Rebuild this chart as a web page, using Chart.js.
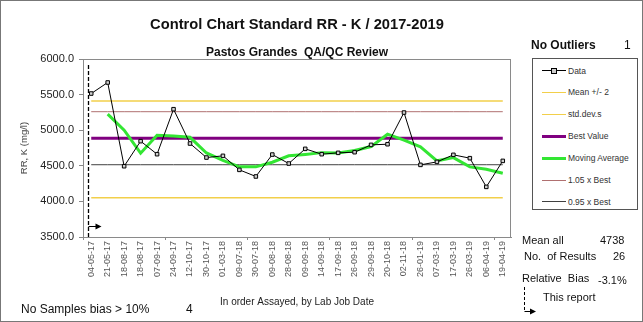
<!DOCTYPE html>
<html>
<head>
<meta charset="utf-8">
<script src="https://cdn.jsdelivr.net/npm/chart.js@4.4.1/dist/chart.umd.min.js"></script>
<style>
	body { margin: 0; background: #fff; font-family: Arial, "Liberation Sans", sans-serif; }
	#wrap { position: relative; width: 643px; height: 322px; overflow: hidden; background: #fff; }
	#chart { position: absolute; left: 0; top: 0; }
	#frame { position: absolute; left: 0; top: 0; width: 643px; height: 322px; box-sizing: border-box; border: 1px solid #777; pointer-events: none; }
	.t { position: absolute; white-space: nowrap; color: #111; line-height: 1; transform: translateY(-50%); }
	.c { transform: translate(-50%, -50%); }
	.b { font-weight: bold; }
	#legend { position: absolute; left: 532px; top: 58px; width: 106px; height: 152px; box-sizing: border-box; border: 1px solid #555; background: #fff; }
	.item { position: absolute; left: 0; height: 0; }
	.item .line { position: absolute; left: 9px; width: 24px; }
	.item .mk { position: absolute; left: 18px; width: 4px; height: 4px; border: 1px solid #000; background: #ccc; top: -3px; }
	.item span { position: absolute; left: 35px; top: 0; transform: translateY(-50%); font-size: 8.5px; color: #333; white-space: nowrap; line-height: 1; }
</style>
</head>
<body>
<div id="wrap">
	<canvas id="chart" width="643" height="322"></canvas>
	<div class="t c b" style="left:297px; top:24px; font-size:14.7px;">Control Chart Standard RR - K / 2017-2019</div>
	<div class="t c b" style="left:297px; top:52px; font-size:12px;">Pastos Grandes&nbsp; QA/QC Review</div>
	<div class="t b" style="left:531px; top:45px; font-size:12px;">No Outliers</div>
	<div class="t" style="left:624px; top:45px; font-size:12px;">1</div>
	<div id="legend"></div>
	<div class="t" style="left:522px; top:240px; font-size:11px;">Mean all</div>
	<div class="t" style="left:600px; top:240px; font-size:11px;">4738</div>
	<div class="t" style="left:524px; top:256px; font-size:11px;">No.&nbsp; of Results</div>
	<div class="t" style="left:613px; top:256px; font-size:11px;">26</div>
	<div class="t" style="left:522px; top:278px; font-size:11px;">Relative&nbsp; Bias</div>
	<div class="t" style="left:598px; top:280px; font-size:11px;">-3.1%</div>
	<div class="t" style="left:543px; top:297px; font-size:11px;">This report</div>
	<svg style="position:absolute; left:518px; top:284px;" width="24" height="34">
		<line x1="6.5" y1="3" x2="6.5" y2="27" stroke="#000" stroke-width="1" stroke-dasharray="3,2"/>
		<line x1="6.5" y1="27.5" x2="13" y2="27.5" stroke="#000" stroke-width="1"/>
		<polygon points="18,27.5 12,24.5 12,30.5" fill="#000"/>
	</svg>
	<div class="t" style="left:21px; top:309px; font-size:12px;">No Samples bias &gt; 10%</div>
	<div class="t" style="left:186px; top:309px; font-size:12px;">4</div>
	<div id="frame"></div>
</div>
<script>
const jobDates = [
	'04-05-17', '21-05-17', '18-08-17', '18-08-17', '07-09-17', '24-09-17',
	'12-10-17', '30-10-17', '01-03-18', '09-07-18', '30-07-18', '09-08-18',
	'28-08-18', '09-09-18', '14-09-18', '17-09-18', '26-09-18', '29-09-18',
	'20-10-18', '02-11-18', '26-01-19', '07-03-19', '17-03-19', '26-03-19',
	'06-04-19', '19-04-19'
];
const results = [
	5515, 5670, 4494, 4846, 4663, 5295, 4813, 4616, 4640, 4443, 4350, 4658, 4532,
	4738, 4663, 4682, 4691, 4794, 4803, 5248, 4513, 4555, 4654, 4607, 4204, 4569
];
const movingAverage = [
	null, 5225, 5000, 4677, 4930, 4920, 4900, 4680, 4575, 4485, 4485, 4550, 4640,
	4660, 4685, 4680, 4715, 4770, 4944, 4860, 4766, 4570, 4615, 4485, 4452, 4396
];
const meanPlus2Sd = 5410;
const meanMinus2Sd = 4052;
const bestValue = 4888;
const best105 = 5260;
const best95 = 4515;
const yTicks = [3500, 4000, 4500, 5000, 5500, 6000];
const thisReportArrowLevel = 3660;

function level(v) {
	return jobDates.map(function () { return v; });
}

const plotExtras = {
	id: 'plotExtras',
	beforeDatasetsDraw(chart) {
		const ctx = chart.ctx;
		const a = chart.chartArea;
		ctx.save();
		ctx.strokeStyle = '#8a8a8a';
		ctx.lineWidth = 1;
		ctx.strokeRect(Math.round(a.left) + 0.5, Math.round(a.top) + 0.5,
			Math.round(a.width) - 1, Math.round(a.height));
		ctx.restore();
	},
	afterDatasetsDraw(chart) {
		const ctx = chart.ctx;
		const a = chart.chartArea;
		const x = chart.scales.x;
		const y = chart.scales.y;
		const mx = Math.round(x.getPixelForValue(0) - 3) + 0.5;
		const ay = Math.round(y.getPixelForValue(thisReportArrowLevel)) + 0.5;
		ctx.save();
		ctx.strokeStyle = '#000';
		ctx.fillStyle = '#000';
		ctx.lineWidth = 1.3;
		ctx.setLineDash([4, 2]);
		ctx.beginPath();
		ctx.moveTo(mx, a.top + 6);
		ctx.lineTo(mx, a.bottom);
		ctx.stroke();
		ctx.setLineDash([]);
		ctx.lineWidth = 1;
		ctx.beginPath();
		ctx.moveTo(mx, ay);
		ctx.lineTo(mx + 8, ay);
		ctx.stroke();
		ctx.beginPath();
		ctx.moveTo(mx + 13, ay);
		ctx.lineTo(mx + 7, ay - 3);
		ctx.lineTo(mx + 7, ay + 3);
		ctx.closePath();
		ctx.fill();
		ctx.restore();
	}
};

const config = {
	type: 'line',
	data: {
		labels: jobDates,
		datasets: [
			{
				label: 'Data',
				data: results,
				borderColor: '#000',
				borderWidth: 1,
				pointStyle: 'rect',
				pointRadius: 2.5,
				pointBorderWidth: 1,
				pointBorderColor: '#000',
				pointBackgroundColor: '#cfcfcf',
				order: 0,
			},
			{
				label: 'Mean +/- 2',
				data: level(meanPlus2Sd),
				borderColor: '#f2cf4a',
				borderWidth: 1.5,
				pointRadius: 0,
				order: 3,
			},
			{
				label: 'std.dev.s',
				data: level(meanMinus2Sd),
				borderColor: '#f2cf4a',
				borderWidth: 1.5,
				pointRadius: 0,
				order: 3,
			},
			{
				label: 'Best Value',
				data: level(bestValue),
				borderColor: '#800080',
				borderWidth: 3,
				pointRadius: 0,
				order: 2,
			},
			{
				label: 'Moving Average',
				data: movingAverage,
				borderColor: '#33e633',
				borderWidth: 3,
				pointRadius: 0,
				order: 1,
			},
			{
				label: '1.05 x Best',
				data: level(best105),
				borderColor: '#b07070',
				borderWidth: 1,
				pointRadius: 0,
				order: 3,
			},
			{
				label: '0.95 x Best',
				data: level(best95),
				borderColor: '#404040',
				borderWidth: 1,
				pointRadius: 0,
				order: 3,
			},
		],
	},
	options: {
		responsive: false,
		animation: false,
		devicePixelRatio: 1,
		layout: {
			padding: { left: 0, right: 132, top: 59, bottom: 0 },
		},
		plugins: {
			legend: { display: false },
			tooltip: { enabled: false },
		},
		scales: {
			x: {
				offset: true,
				afterFit: function (scale) { scale.height = 85; },
				border: { color: '#888' },
				grid: {
					offset: true,
					drawOnChartArea: false,
					tickLength: 3,
					color: function (ctx) {
						return ctx.index % 5 === 0 ? '#888' : 'rgba(0,0,0,0)';
					},
				},
				ticks: {
					autoSkip: false,
					minRotation: 90,
					maxRotation: 90,
					padding: 1,
					color: '#555',
					font: { family: 'Arial, "Liberation Sans"', size: 9 },
				},
				title: {
					display: true,
					text: 'In order Assayed, by Lab Job Date',
					color: '#222',
					padding: { top: 0, bottom: 14 },
					font: { family: 'Arial, "Liberation Sans"', size: 10 },
				},
			},
			y: {
				min: yTicks[0],
				max: yTicks[yTicks.length - 1],
				afterFit: function (scale) { scale.width = 83; },
				afterBuildTicks: function (scale) {
					scale.ticks = yTicks.map(function (v) { return { value: v }; });
				},
				border: { color: '#888' },
				grid: {
					drawOnChartArea: false,
					tickLength: 4,
					color: '#888',
				},
				ticks: {
					padding: 5,
					color: '#222',
					font: { family: 'Arial, "Liberation Sans"', size: 11 },
					callback: function (v) { return Number(v).toFixed(1); },
				},
				title: {
					display: true,
					text: 'RR, K (mg/l)',
					color: '#444',
					padding: { top: 19, bottom: 0 },
					font: { family: 'Arial, "Liberation Sans"', size: 9.5 },
				},
			},
		},
	},
	plugins: [plotExtras],
};

const chart = new Chart(document.getElementById('chart'), config);

// legend box on the right, built from the datasets
(function () {
	const box = document.getElementById('legend');
	chart.data.datasets.forEach(function (ds, i) {
		const item = document.createElement('div');
		item.className = 'item';
		item.style.top = (11.5 + i * 21.9) + 'px';
		const line = document.createElement('div');
		line.className = 'line';
		line.style.borderTop = ds.borderWidth + 'px solid ' + ds.borderColor;
		line.style.top = (-ds.borderWidth / 2) + 'px';
		item.appendChild(line);
		if (ds.pointRadius > 0) {
			const mk = document.createElement('div');
			mk.className = 'mk';
			item.appendChild(mk);
		}
		const txt = document.createElement('span');
		txt.textContent = ds.label;
		item.appendChild(txt);
		box.appendChild(item);
	});
})();
</script>
</body>
</html>
